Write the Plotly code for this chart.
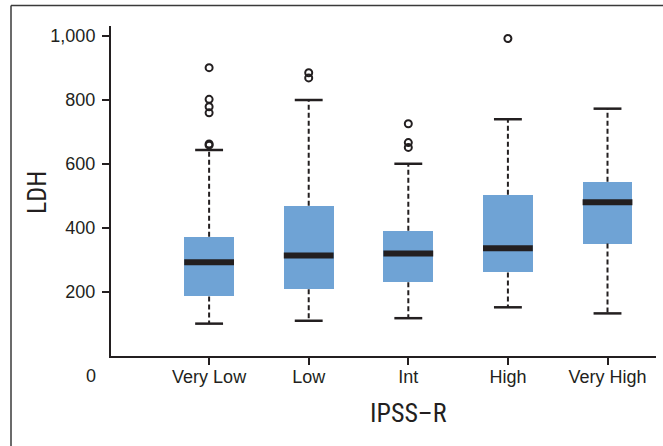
import plotly.graph_objects as go

categories = ["Very Low", "Low", "Int", "High", "Very High"]
q1 = [186, 208, 230, 261, 351]
median = [293, 314, 320, 336, 480]
q3 = [372, 469, 391, 503, 544]
lower_whisker = [101, 110, 118, 152, 133]
upper_whisker = [643, 799, 600, 739, 772]
outliers = [
    [900, 801, 778, 759, 662, 658],
    [884, 868],
    [725, 666, 651],
    [991],
    [],
]
y_tick_vals = [200, 400, 600, 800, 1000]
y_tick_text = ["200", "400", "600", "800", "1,000"]

BOX_COLOR = "#6fa3d5"
INK = "#231f20"
FONT = "Liberation Sans, Arial, Helvetica, sans-serif"
TITLE_FONT = "Roboto Condensed, Liberation Sans Narrow, Arial Narrow, sans-serif"
BOX_HALF = 0.25
CAP_HALF = 0.14

xs = list(range(len(categories)))
fig = go.Figure()

# boxes
fig.add_trace(go.Bar(
    x=xs, base=q1, y=[b - a for a, b in zip(q1, q3)], width=2 * BOX_HALF,
    marker=dict(color=BOX_COLOR, line=dict(width=0)), hoverinfo="skip", showlegend=False,
))

# whiskers (dashed)
wx, wy = [], []
for i in xs:
    wx += [i, i, None, i, i, None]
    wy += [q3[i], upper_whisker[i], None, q1[i], lower_whisker[i], None]
fig.add_trace(go.Scatter(x=wx, y=wy, mode="lines",
                         line=dict(color=INK, width=2, dash="5px,3px"),
                         hoverinfo="skip", showlegend=False))

# caps
cx, cy = [], []
for i in xs:
    for v in (upper_whisker[i], lower_whisker[i]):
        cx += [i - CAP_HALF, i + CAP_HALF, None]
        cy += [v, v, None]
fig.add_trace(go.Scatter(x=cx, y=cy, mode="lines", line=dict(color=INK, width=2.5),
                         hoverinfo="skip", showlegend=False))

# medians
mx, my = [], []
for i in xs:
    mx += [i - BOX_HALF, i + BOX_HALF, None]
    my += [median[i], median[i], None]
fig.add_trace(go.Scatter(x=mx, y=my, mode="lines", line=dict(color=INK, width=6),
                         hoverinfo="skip", showlegend=False))

# outliers
ox, oy = [], []
for i in xs:
    for v in outliers[i]:
        ox.append(i)
        oy.append(v)
fig.add_trace(go.Scatter(x=ox, y=oy, mode="markers",
                         marker=dict(symbol="circle-open", size=7, color=INK, line=dict(width=2)),
                         hoverinfo="skip", showlegend=False))

L, R, T, B = 111, 7, 26, 90
W, H = 663, 446
pw, ph = W - L - R, H - T - B

fig.update_layout(
    width=W, height=H,
    margin=dict(l=L, r=R, t=T, b=B),
    plot_bgcolor="white", paper_bgcolor="white",
    font=dict(family=FONT, color=INK, size=18),
    showlegend=False,
    bargap=0,
    xaxis=dict(
        range=[-0.985, -0.985 + pw / 99.6],
        tickmode="array", tickvals=xs, ticktext=categories,
        ticks="outside", ticklen=7, tickwidth=2, tickcolor=INK,
        showline=True, linecolor=INK, linewidth=2,
        showgrid=False, zeroline=False,
        tickfont=dict(size=18, family=FONT, color=INK),
        ticklabelstandoff=-4,
    ),
    yaxis=dict(
        range=[0, 1030],
        tickmode="array", tickvals=y_tick_vals, ticktext=y_tick_text,
        ticks="outside", ticklen=7, tickwidth=2, tickcolor=INK,
        showline=True, linecolor=INK, linewidth=2,
        showgrid=False, zeroline=False,
        tickfont=dict(size=18, family=FONT, color=INK),
        ticklabelstandoff=3,
    ),
    shapes=[
        dict(type="line", xref="paper", yref="paper",
             x0=(11 - L) / pw, x1=(11 - L) / pw, y0=-B / ph - 0.01, y1=1 + (T - 5.5) / ph,
             line=dict(color="#3a3a3a", width=1.5)),
        dict(type="line", xref="paper", yref="paper",
             x0=(11 - L) / pw, x1=1 + R / pw + 0.01, y0=1 + (T - 5.5) / ph, y1=1 + (T - 5.5) / ph,
             line=dict(color="#3a3a3a", width=1.5)),
    ],
    annotations=[
        dict(text="0", xref="paper", yref="paper", x=(91 - L) / pw, y=-(376 - (T + ph)) / ph,
             showarrow=False, xanchor="center", yanchor="middle",
             font=dict(size=18, family=FONT, color=INK)),
        dict(text="LDH", xref="paper", yref="paper", x=(37 - L) / pw, y=1 - (193 - T) / ph,
             textangle=-90, showarrow=False, xanchor="center", yanchor="middle",
             font=dict(size=26, family=TITLE_FONT, color=INK)),
        dict(text="IPSS–R", xref="x", yref="paper", x=2, y=-(413 - (T + ph)) / ph,
             showarrow=False, xanchor="center", yanchor="middle",
             font=dict(size=26, family=TITLE_FONT, color=INK)),
    ],
)

fig.write_html("out.html")
